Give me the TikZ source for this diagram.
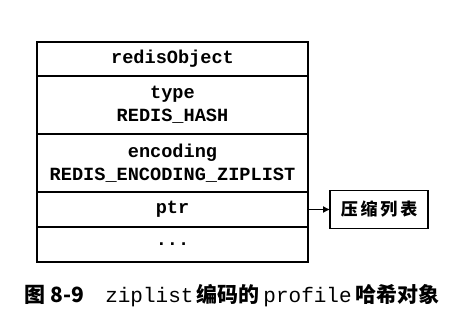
\documentclass[tikz,border=0pt]{standalone}
\usepackage{fontspec}
\setmonofont{Liberation Mono}
\newfontfamily\cjk{Noto Sans CJK SC}
\usetikzlibrary{arrows.meta,positioning}

\begin{document}
\begin{tikzpicture}[x=1pt, y=1pt, node distance=0pt,
  every node/.style={font=\ttfamily\bfseries\fontsize{18.6}{23}\selectfont},
  field/.style={draw, line width=1.6pt, outer sep=0pt, minimum width=271pt, align=center, inner sep=0pt},
  target/.style={draw, line width=1.6pt, outer sep=0pt, minimum width=98pt, minimum height=38pt, inner sep=0pt}]
  \useasboundingbox (0,0) rectangle (453,-324);
  % redisObject fields
  \node[field, minimum height=34pt] (obj) at (172.5,-59) {redisObject};
  \node[field, minimum height=58pt, below=of obj] (type) {type\\REDIS\_HASH};
  \node[field, minimum height=58pt, below=of type] (enc) {encoding\\REDIS\_ENCODING\_ZIPLIST};
  \node[field, minimum height=35pt, below=of enc] (ptr) {ptr};
  \node[field, minimum height=35pt, below=of ptr] (rest) {...};
  % ziplist
  \node[target, right=22pt of ptr, font=\cjk\bfseries\fontsize{17}{20}\selectfont] (zl) {压\,缩\,列\,表};
  \draw[-{Latex[length=7pt, width=7pt]}, line width=1pt] (ptr) -- (zl);
  % caption
  \node[font=\fontsize{21}{25}\selectfont] (cap) at (232,-296) {{\cjk\bfseries 图 8-9}\quad \texttt{ziplist}\,{\cjk\bfseries 编码的}\,\texttt{profile}\,{\cjk\bfseries 哈希对象}};
\end{tikzpicture}
\end{document}
